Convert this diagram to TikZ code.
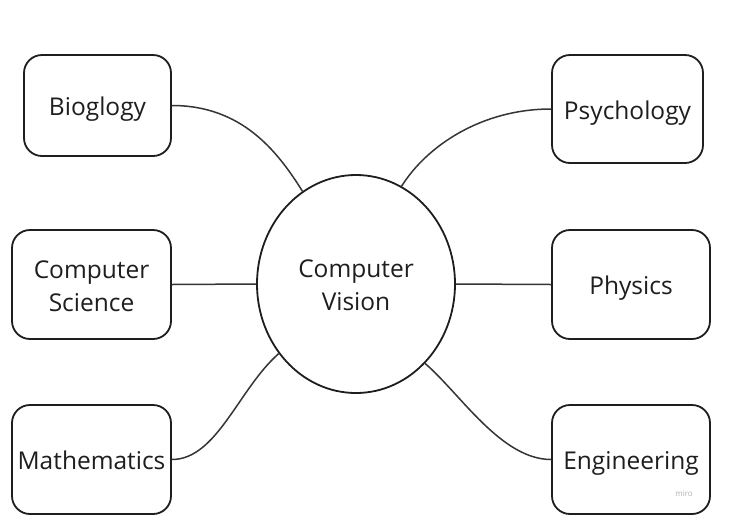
\documentclass[tikz,border=0pt]{standalone}
\usepackage{fontspec}
\setmainfont{Open Sans}
\usetikzlibrary{shapes.geometric}
\definecolor{ink}{HTML}{1E1E1E}
\tikzset{
  box/.style={draw=ink, line width=1.8pt, rounded corners=18pt, inner sep=0pt,
    align=center, text=ink, font=\fontsize{24.5}{33}\selectfont},
  oneline/.style={text height=22pt, text depth=2pt},
  twoline/.style={text height=57pt, text depth=4pt},
  link/.style={draw=ink!90, line width=1.5pt},
}
\begin{document}
\begin{tikzpicture}[x=1pt, y=-1pt]
\useasboundingbox[fill=white] (0,0) rectangle (730,520);
\node[draw=ink, line width=1.8pt, ellipse, minimum width=198pt, minimum height=218pt, inner sep=0pt,
  align=center, text=ink, font=\fontsize{24.5}{33}\selectfont, twoline] (cv) at (356,284) {Computer\\Vision};
\node[box, oneline, minimum width=147pt, minimum height=101pt] (b) at (97.5,105.5) {Bioglogy};
\node[box, oneline, minimum width=151pt, minimum height=108pt] (p) at (627.5,109) {Psychology};
\node[box, twoline, minimum width=159pt, minimum height=109pt] (cs) at (91.5,284.5) {Computer\\Science};
\node[box, oneline, minimum width=158pt, minimum height=109pt] (ph) at (631,284.5) {Physics};
\node[box, oneline, minimum width=159pt, minimum height=109pt] (m) at (91.5,459.5) {Mathematics};
\node[box, oneline, minimum width=158pt, minimum height=109pt] (e) at (631,459.5) {Engineering};
\node[text=black!30, font=\fontsize{8}{9}\selectfont, inner sep=0pt] (w) at (684,494) {miro};
\draw[link] (b.east) .. controls +(70,0) and +(-25,-40) .. (cv.120);
\draw[link] (p.west) .. controls +(-70,0) and +(25,-40) .. (cv.65);
\draw[link] (cs.east) -- (cv.west);
\draw[link] (cv.east) -- (ph.west);
\draw[link] (m.east) .. controls +(45,0) and +(-40,35) .. (cv.222);
\draw[link] (e.west) .. controls +(-50,0) and +(35,30) .. (cv.-49);
\end{tikzpicture}
\end{document}
